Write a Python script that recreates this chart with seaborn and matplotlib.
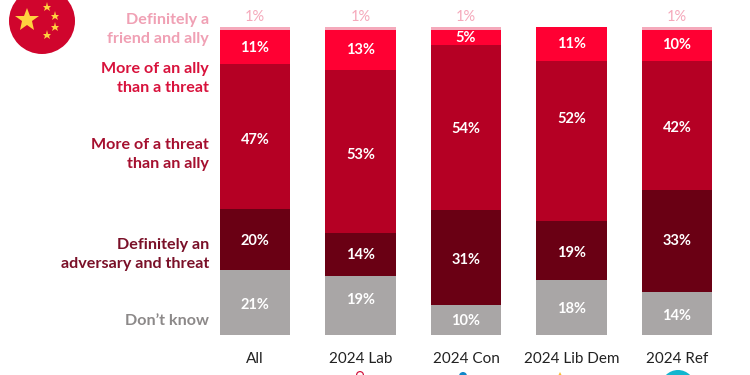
import numpy as np
import pandas as pd
import matplotlib.pyplot as plt
from matplotlib.patches import Circle, Wedge
import seaborn as sns

# data
groups = ['All', '2024 Lab', '2024 Con', '2024 Lib Dem', '2024 Ref']
friend = [1, 1, 1, 0, 1]
more_ally = [11, 13, 5, 11, 10]
more_threat = [47, 53, 54, 52, 42]
adversary = [20, 14, 31, 19, 33]
dont_know = [21, 19, 10, 18, 14]

friend_name = 'Definitely a\nfriend and ally'
ally_name = 'More of an ally\nthan a threat'
threat_name = 'More of a threat\nthan an ally'
adv_name = 'Definitely an\nadversary and threat'
dk_name = 'Don\u2019t know'

sns.set_theme(style='white')
plt.rcParams['font.family'] = ['Lato', 'DejaVu Sans']

df = pd.DataFrame({'group': groups, 'dk': dont_know, 'adv': adversary,
                   'threat': more_threat, 'ally': more_ally, 'friend': friend})
cols = ['dk', 'adv', 'threat', 'ally', 'friend']
colors = {'dk': '#a9a6a6', 'adv': '#6a0014', 'threat': '#b50024', 'ally': '#ff0033', 'friend': '#f5a9bb'}
text_colors = {'dk': '#8c8989', 'adv': '#7a1028', 'threat': '#a5102f', 'ally': '#d8123c', 'friend': '#f0a0b4'}

# the percent labels in the original sit off-centre, shift in pixels (+ = down)
label_shift = {('threat', 0): 4, ('threat', 1): 3, ('threat', 2): 1, ('threat', 3): -22, ('threat', 4): 2,
               ('adv', 0): 1, ('adv', 2): 3, ('adv', 3): 3, ('dk', 0): 2, ('dk', 1): -6,
               ('dk', 2): 1, ('dk', 3): 2, ('dk', 4): 3, ('ally', 0): 1}

fig = plt.figure(figsize=(7.5, 3.75), dpi=100)
# axes spans bars' plot area: y 27..335 px, first bar centre 255, spacing 105.5 px
ax = fig.add_axes([0, 1 - 335 / 375, 1, 308 / 375])
ax.patch.set_alpha(0)
px = 100 / 308

# stacks are scaled to 100 per bar
totals = df[cols].sum(axis=1)
bottom = np.zeros(len(df))
for c in cols:
    h = df[c] / totals * 100
    sns.barplot(x=df['group'], y=h, bottom=bottom, color=colors[c], width=0.667,
                saturation=1, ax=ax, linewidth=0, order=groups)
    for i, (val, hh) in enumerate(zip(df[c], h)):
        if val == 0:
            continue
        if c == 'friend':
            ax.text(i, bottom[i] + hh + 1.0, f'{val}%', ha='center', va='bottom',
                    color=colors['friend'], fontsize=10.5)
        else:
            y = bottom[i] + hh / 2 - label_shift.get((c, i), 0) * px
            ax.text(i, y, f'{val}%', ha='center', va='center',
                    color='white', fontsize=10.5, fontweight='bold')
    bottom = bottom + h.values

ax.set_ylim(0, 100)
ax.set_xlim(-255 / 105.5, (750 - 255) / 105.5)
ax.set_xlabel('')
ax.set_ylabel('')
ax.set_yticks([])
ax.tick_params(axis='x', length=0, pad=12, labelsize=11, colors='#222222')
sns.despine(ax=ax, left=True, bottom=True)

# overlay in pixel coordinates for the row labels and the logos
ov = fig.add_axes([0, 0, 1, 1], zorder=-1)
ov.set_xlim(0, 750)
ov.set_ylim(375, 0)
ov.axis('off')

for name, y, c in [(friend_name, 29.5, 'friend'), (ally_name, 78.5, 'ally'), (threat_name, 154.5, 'threat'),
                   (adv_name, 254.5, 'adv'), (dk_name, 321, 'dk')]:
    ov.text(209, y, name, ha='right', va='center', color=text_colors[c], fontsize=11.6,
            fontweight='bold', linespacing=1.5)

# flag
ov.add_patch(Circle((42, 21), 33, color='#d0052d', lw=0))
ov.plot([27], [20], marker='*', ms=18, color='#ffd23f', mew=0)
ov.plot([47, 55, 55, 47], [7, 16, 27, 35], ls='', marker='*', ms=6.5, color='#ffd23f', mew=0)

# party logos, cut off by the bottom edge
ov.add_patch(Circle((678, 387), 17, color='#12b6cf', lw=0))
ov.add_patch(Wedge((360, 375), 4, 180, 360, width=1.2, color='#d0103a', lw=0))
ov.add_patch(Circle((463, 376), 4, color='#0f87c9', lw=0))
ov.plot([560], [375], marker='^', ms=4, color='#fdbb30', mew=0)

fig.savefig('out.png', dpi=100)
